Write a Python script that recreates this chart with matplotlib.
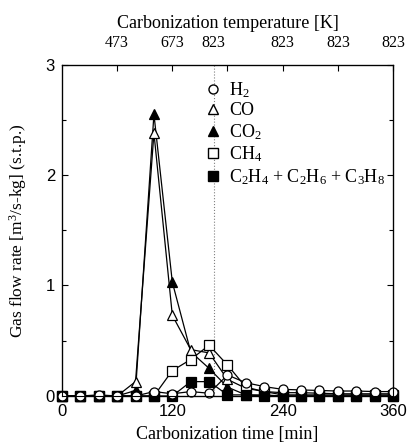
import numpy as np
import matplotlib
matplotlib.use("Agg")
import matplotlib.pyplot as plt
from matplotlib.lines import Line2D

plt.rcParams['font.family'] = ['Liberation Serif', 'DejaVu Serif']
plt.rcParams['mathtext.fontset'] = 'custom'
plt.rcParams['mathtext.rm'] = 'Liberation Serif'
plt.rcParams['mathtext.it'] = 'Liberation Serif:italic'

# carbonization time [min]
time_min = [0, 20, 40, 60, 80, 100, 120, 140, 160, 180, 200, 220, 240,
            260, 280, 300, 320, 340, 360]
h2 = [0, 0, 0.01, 0, 0, 0.04, 0.02, 0.04, 0.025, 0.19, 0.12, 0.085, 0.06,
      0.055, 0.05, 0.045, 0.045, 0.04, 0.04]
co = [0, 0, 0, 0, 0.13, 2.38, 0.73, 0.42, 0.39, 0.15, 0.07, 0.04, 0.03,
      0.03, 0.025, 0.02, 0.02, 0.02, 0.02]
co2 = [0, 0, 0, 0, 0.05, 2.55, 1.03, 0.40, 0.25, 0.08, 0.01, 0.01, 0,
       0, 0, 0, 0, 0, 0]
ch4 = [0, 0, 0, 0, 0, 0, 0.23, 0.33, 0.46, 0.28, 0.08, 0.04, 0.01,
       0.01, 0.01, 0.01, 0.01, 0.01, 0.01]
c2_sum = [0, 0, 0, 0, 0, 0, 0, 0.13, 0.13, 0.01, 0.01, 0, 0,
          0, 0, 0, 0, 0, 0]

top_tick_pos = [60, 120, 165, 240, 300, 360]
top_tick_labels = ['473', '673', '823', '823', '823', '823']
t_823 = 165

fig = plt.figure(figsize=(4.07, 4.43), dpi=100)
ax = fig.add_axes([0.1523, 0.1061, 0.8133, 0.7483])

ax.axvline(t_823, color='gray', linestyle=':', linewidth=0.8, zorder=1)

series = [
    (co2, '^', 'black', 3),
    (co, '^', 'white', 4),
    (ch4, 's', 'white', 5),
    (c2_sum, 's', 'black', 6),
    (h2, 'o', 'white', 7),
]
for vals, mk, fc, z in series:
    ax.plot(time_min, vals, color='black', linewidth=0.9, marker=mk,
            markersize=6.5, markerfacecolor=fc, markeredgecolor='black',
            markeredgewidth=0.9, clip_on=False, zorder=z)

ax.set_xlim(0, 360)
ax.set_ylim(0, 3)
ax.set_xticks([0, 120, 240, 360])
ax.set_xticks([60, 180, 300], minor=True)
ax.set_yticks([0, 1, 2, 3])
ax.set_yticks([0.5, 1.5, 2.5], minor=True)
ax.tick_params(which='both', direction='in', length=4, width=0.8,
               right=True, labelsize=12)
ax.tick_params(axis='x', which='both', pad=6)
ax.tick_params(axis='y', which='both', pad=5)
ax.tick_params(which='minor', length=3)
for lbl in ax.get_xticklabels() + ax.get_yticklabels():
    lbl.set_family('Liberation Sans')
ax.set_xlabel('Carbonization time [min]', fontsize=13, labelpad=5)
ax.set_ylabel(r'Gas flow rate [m$^3$/s-kg] (s.t.p.)', fontsize=12.5, labelpad=12)

# top temperature axis
ax2 = ax.twiny()
ax2.set_xlim(0, 360)
ax2.xaxis.remove_overlapping_locs = False
ax2.set_xticks([60, 120, 180, 240, 300, 360])
ax2.set_xticklabels([])
ax2.set_xticks(top_tick_pos, minor=True)
ax2.set_xticklabels(top_tick_labels, minor=True)
ax2.tick_params(which='major', direction='in', length=4, width=0.8)
ax2.tick_params(which='minor', length=0, labelsize=11.5, pad=10)
ax2.set_xlabel('Carbonization temperature [K]', fontsize=13, labelpad=5)

handles = [
    Line2D([], [], linestyle='none', marker='o', markersize=6.5,
           markerfacecolor='white', markeredgecolor='black', label=r'H$_2$'),
    Line2D([], [], linestyle='none', marker='^', markersize=6.5,
           markerfacecolor='white', markeredgecolor='black', label='CO'),
    Line2D([], [], linestyle='none', marker='^', markersize=6.5,
           markerfacecolor='black', markeredgecolor='black', label=r'CO$_2$'),
    Line2D([], [], linestyle='none', marker='s', markersize=6.5,
           markerfacecolor='white', markeredgecolor='black', label=r'CH$_4$'),
    Line2D([], [], linestyle='none', marker='s', markersize=6.5,
           markerfacecolor='black', markeredgecolor='black',
           label=r'C$_2$H$_4$ + C$_2$H$_6$ + C$_3$H$_8$'),
]
leg = ax.legend(handles=handles, loc='upper left', bbox_to_anchor=(0.413, 0.975),
                frameon=False, fontsize=13, handlelength=0.8, handletextpad=0.5,
                labelspacing=0.15, borderaxespad=0)

for s in ax.spines.values():
    s.set_linewidth(0.9)

fig.savefig('out.png', dpi=100)
